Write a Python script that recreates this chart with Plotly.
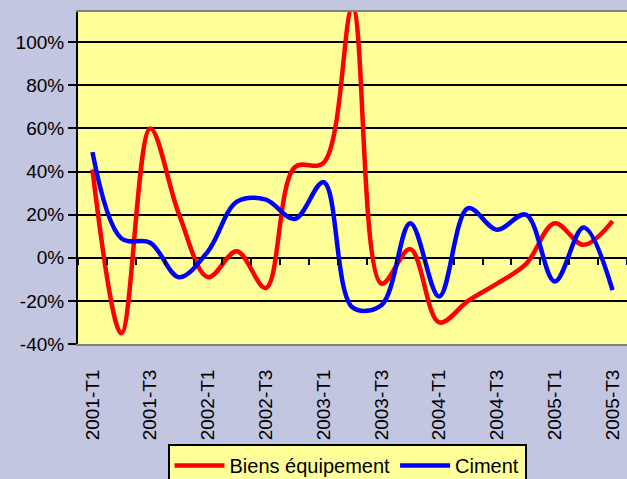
import plotly.graph_objects as go

quarters = ["2001-T1", "2001-T2", "2001-T3", "2001-T4",
            "2002-T1", "2002-T2", "2002-T3", "2002-T4",
            "2003-T1", "2003-T2", "2003-T3", "2003-T4",
            "2004-T1", "2004-T2", "2004-T3", "2004-T4",
            "2005-T1", "2005-T2", "2005-T3"]
biens_equipement = [41, -35, 60, 20, -9, 3, -14, 42, 44, 116, -12, 4, -30, -20, -12, -3, 16, 6, 17]
ciment = [49, 9, 7, -9, 3, 26, 27, 18, 35, -23, -22, 16, -18, 23, 13, 20, -11, 14, -15]
y_ticks = [-40, -20, 0, 20, 40, 60, 80, 100]
y_tick_text = ["-40%", "-20%", "0%", "20%", "40%", "60%", "80%", "100%"]
x_label_ticks = quarters[::2]

Y_MIN, Y_MAX = -40, 114
FONT = "Liberation Sans, Arial, sans-serif"

fig = go.Figure()
fig.add_trace(go.Scatter(x=quarters, y=biens_equipement, name="Biens équipement",
                         mode="lines", line=dict(color="#FF0000", width=4.5, shape="spline", smoothing=1.0)))
fig.add_trace(go.Scatter(x=quarters, y=ciment, name="Ciment",
                         mode="lines", line=dict(color="#0000FF", width=4.5, shape="spline", smoothing=1.0)))

fig.update_layout(
    width=627, height=479,
    margin=dict(l=78, r=0, t=12, b=135, autoexpand=False),
    paper_bgcolor="#C3C6E0",
    plot_bgcolor="#FFFF99",
    font=dict(family=FONT, size=19, color="#000000"),
    xaxis=dict(
        type="category", categoryorder="array", categoryarray=quarters,
        range=[-0.5, len(quarters) - 0.5],
        tickmode="array", tickvals=x_label_ticks, ticktext=x_label_ticks,
        tickangle=-90, ticks="outside", ticklen=16, tickcolor="rgba(0,0,0,0)",
        showgrid=False, zeroline=False,
        showline=True, linecolor="#808080", linewidth=2, mirror=True,
        tickfont=dict(size=19, family=FONT, color="#000000"),
        automargin=False,
    ),
    xaxis2=dict(
        overlaying="x", anchor="free",
        position=(0 - Y_MIN) / (Y_MAX - Y_MIN),
        range=[-0.5, len(quarters) - 0.5],
        tickmode="linear", tick0=0.5, dtick=1,
        ticks="outside", ticklen=6, tickwidth=2, tickcolor="#000000",
        showticklabels=False, showgrid=False, zeroline=False, showline=False,
    ),
    yaxis=dict(
        range=[Y_MIN, Y_MAX],
        tickmode="array", tickvals=y_ticks, ticktext=y_tick_text,
        showgrid=True, gridcolor="#000000", gridwidth=1.5,
        zeroline=False,
        showline=True, linecolor="#000000", linewidth=2,
        ticks="outside", ticklen=8, tickwidth=2, tickcolor="#000000",
        tickfont=dict(size=19, family=FONT, color="#000000"),
        automargin=False,
    ),
    legend=dict(
        orientation="h", xanchor="center", yanchor="top",
        x=0.49, y=-0.301,
        bgcolor="#FFFF99", bordercolor="#000000", borderwidth=2,
        font=dict(size=20, family=FONT, color="#000000"),
        itemwidth=50, tracegroupgap=0,
    ),
    showlegend=True,
)
# dummy trace so xaxis2 renders
fig.add_trace(go.Scatter(x=[0], y=[None], xaxis="x2", showlegend=False, hoverinfo="skip"))

fig.write_html("out.html", config={"displayModeBar": False},
               post_script="document.body.style.margin='0';")
